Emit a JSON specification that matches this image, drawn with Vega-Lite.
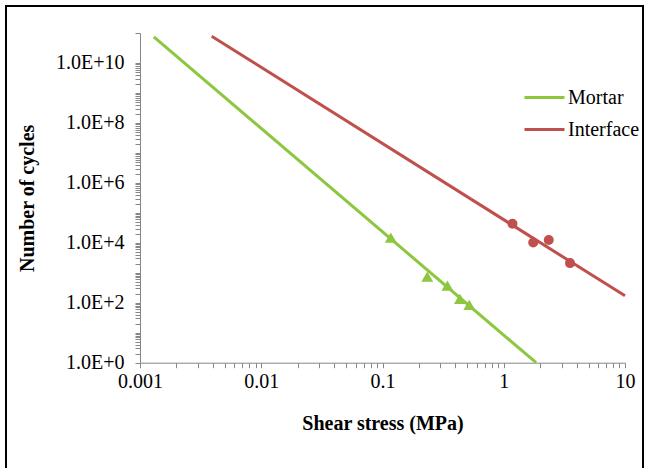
{
  "$schema": "https://vega.github.io/schema/vega-lite/v6.json",
  "width": 637,
  "height": 470,
  "autosize": {"type": "none"},
  "padding": {"left": 6, "top": 6, "right": 2, "bottom": 0},
  "background": "white",
  "config": {
    "view": {"stroke": "black", "strokeWidth": 2},
    "font": "Liberation Serif"
  },
  "datasets": {
    "lines": [
      {"series": "Mortar", "stress": 0.0013, "cycles": 7.4e10},
      {"series": "Mortar", "stress": 1.85, "cycles": 1},
      {"series": "Interface", "stress": 0.0039, "cycles": 7.8e10},
      {"series": "Interface", "stress": 10, "cycles": 170}
    ],
    "points": [
      {"series": "Mortar", "stress": 0.117, "cycles": 15000},
      {"series": "Mortar", "stress": 0.234, "cycles": 750},
      {"series": "Mortar", "stress": 0.343, "cycles": 376},
      {"series": "Mortar", "stress": 0.435, "cycles": 135},
      {"series": "Mortar", "stress": 0.52, "cycles": 85},
      {"series": "Interface", "stress": 1.18, "cycles": 43000},
      {"series": "Interface", "stress": 1.75, "cycles": 10300},
      {"series": "Interface", "stress": 2.35, "cycles": 12400},
      {"series": "Interface", "stress": 3.52, "cycles": 2100}
    ]
  },
  "encoding": {
    "x": {
      "field": "stress",
      "type": "quantitative",
      "scale": {"type": "log", "domain": [0.001, 10], "range": [134, 619], "nice": false},
      "axis": {
        "title": "Shear stress (MPa)",
        "titleFont": "Liberation Serif",
        "titleFontSize": 20,
        "titleFontWeight": "bold",
        "titleColor": "black",
        "titlePadding": 22,
        "labelFont": "Liberation Serif",
        "labelFontSize": 20,
        "labelColor": "black",
        "labelPadding": 4,
        "labelOverlap": false,
        "labelFlush": false,
        "domainColor": "#868686",
        "domainWidth": 1,
        "tickColor": "#868686",
        "tickSize": 5,
        "grid": false,
        "offset": -113.3,
        "values": [0.001, 0.002, 0.003, 0.004, 0.005, 0.006, 0.007, 0.008, 0.009,
                   0.01, 0.02, 0.03, 0.04, 0.05, 0.06, 0.07, 0.08, 0.09,
                   0.1, 0.2, 0.3, 0.4, 0.5, 0.6, 0.7, 0.8, 0.9,
                   1, 2, 3, 4, 5, 6, 7, 8, 9, 10],
        "labelExpr": "indexof([0.001, 0.01, 0.1, 1, 10], datum.value) >= 0 ? toString(datum.value) : ''"
      }
    },
    "y": {
      "field": "cycles",
      "type": "quantitative",
      "scale": {"type": "log", "domain": [1, 1e11], "range": [356.7, 27], "nice": false},
      "axis": {
        "title": "Number of cycles",
        "titleFont": "Liberation Serif",
        "titleFontSize": 20,
        "titleFontWeight": "bold",
        "titleColor": "black",
        "titlePadding": 18,
        "labelFont": "Liberation Serif",
        "labelFontSize": 20,
        "labelColor": "black",
        "labelPadding": 11,
        "labelOverlap": false,
        "labelFlush": false,
        "domainColor": "#868686",
        "domainWidth": 1,
        "tickColor": "#868686",
        "tickSize": 5,
        "grid": false,
        "offset": -134,
        "values": [1, 2, 3, 4, 5, 6, 7, 8, 9, 10, 20, 30, 40, 50, 60, 70, 80, 90,
                   100, 200, 300, 400, 500, 600, 700, 800, 900, 1000, 2000, 3000, 4000, 5000, 6000, 7000, 8000, 9000,
                   10000, 20000, 30000, 40000, 50000, 60000, 70000, 80000, 90000, 100000, 200000, 300000, 400000, 500000, 600000, 700000, 800000, 900000,
                   1e6, 2e6, 3e6, 4e6, 5e6, 6e6, 7e6, 8e6, 9e6, 1e7, 2e7, 3e7, 4e7, 5e7, 6e7, 7e7, 8e7, 9e7,
                   1e8, 2e8, 3e8, 4e8, 5e8, 6e8, 7e8, 8e8, 9e8, 1e9, 2e9, 3e9, 4e9, 5e9, 6e9, 7e9, 8e9, 9e9,
                   1e10, 1e11],
        "labelExpr": "indexof([1, 100, 10000, 1000000, 100000000, 10000000000], datum.value) >= 0 ? '1.0E+' + round(log(datum.value) / LN10) : ''"
      }
    }
  },
  "layer": [
    {
      "data": {"name": "lines"},
      "mark": {"type": "line", "strokeWidth": 3},
      "encoding": {
        "color": {
          "field": "series",
          "type": "nominal",
          "scale": {"domain": ["Mortar", "Interface"], "range": ["#8DC63F", "#C0504D"]},
          "legend": {
            "title": null,
            "orient": "none",
            "legendX": 517,
            "legendY": 70,
            "symbolType": "stroke",
            "symbolSize": 1600,
            "symbolStrokeWidth": 3,
            "symbolOpacity": 1,
            "labelFontSize": 20,
            "labelFont": "Liberation Serif",
            "labelColor": "black",
            "labelOffset": 2,
            "rowPadding": -5
          }
        }
      }
    },
    {
      "data": {"name": "points"},
      "transform": [{"filter": "datum.series == 'Mortar'"}],
      "mark": {"type": "point", "filled": true, "opacity": 1, "size": 140, "strokeWidth": 0, "shape": "triangle-up", "color": "#8DC63F"}
    },
    {
      "data": {"name": "points"},
      "transform": [{"filter": "datum.series == 'Interface'"}],
      "mark": {"type": "point", "filled": true, "opacity": 1, "size": 100, "strokeWidth": 0, "shape": "circle", "color": "#C0504D"}
    }
  ]
}
